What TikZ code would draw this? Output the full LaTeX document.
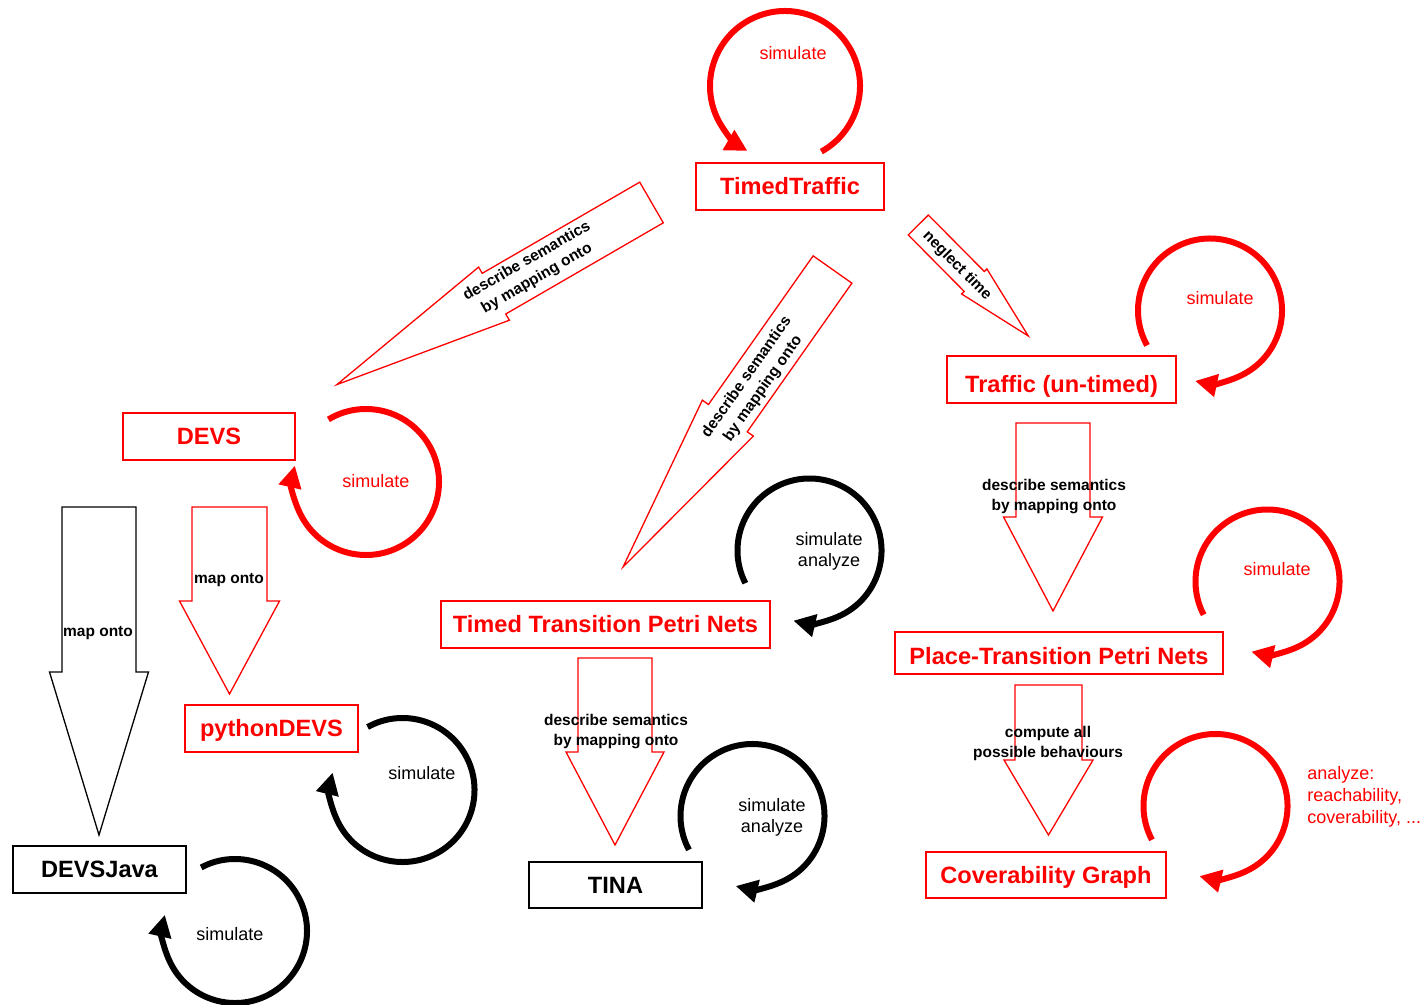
\documentclass[tikz,border=0pt]{standalone}
\usepackage{fontspec}
\setmainfont{Liberation Sans}
\usetikzlibrary{arrows.meta}

% outlined block arrow: style, start (middle of the tail), direction,
% total length, half shaft width, half head width, where the head begins
\newcommand{\blockarrow}[7]{%
  \draw[#1, shift={#2}, rotate=#3]
    (0,-#5) -- (#7,-#5) -- (#7,-#6) -- (#4,0) -- (#7,#6) -- (#7,#5) -- (0,#5) -- cycle;}

\begin{document}
\begin{tikzpicture}[x=0.5pt,y=0.5pt,
  modelbox/.style={draw=red, text=red, line width=0.9pt, inner sep=0pt,
    minimum height=23.5pt, text height=9pt, text depth=0.8pt,
    font=\fontsize{11.8}{13}\selectfont\bfseries},
  toolbox/.style={modelbox, draw=black, text=black},
  loopred/.style={draw=red, line width=3pt, -{Triangle[length=11pt,width=11pt]}},
  loopblack/.style={loopred, draw=black},
  looplabel/.style={text=red, font=\fontsize{9}{10.5}\selectfont, align=center, inner sep=0pt},
  looplabelb/.style={looplabel, text=black},
  arrowshape/.style={draw=red, line width=0.65pt, line join=miter},
  arrowshapeb/.style={arrowshape, draw=black},
  arrowlabel/.style={font=\fontsize{7.75}{10}\selectfont\bfseries, align=center, inner sep=0pt},
]
\path[use as bounding box, fill=white] (0,0) rectangle (1428,-1005);

% ---- formalisms and tools
\node[modelbox, minimum width=94pt] (timed) at (790,-186.5) {TimedTraffic};
\node[modelbox, minimum width=114.5pt, text height=14pt] (untimed) at (1061.5,-379.5) {Traffic (un-timed)};
\node[modelbox, minimum width=86pt] (devs) at (209,-436.5) {DEVS};
\node[modelbox, minimum width=164.5pt] (ttpn) at (605.5,-624.5) {Timed Transition Petri Nets};
\node[modelbox, minimum width=164pt, minimum height=21pt, text height=12pt] (ptpn) at (1059,-653) {Place-Transition Petri Nets};
\node[modelbox, minimum width=86.5pt] (pydevs) at (271.5,-728.5) {pythonDEVS};
\node[toolbox, minimum width=86.5pt] (devsjava) at (99.5,-869.5) {DEVSJava};
\node[toolbox, minimum width=86.5pt, minimum height=23pt] (tina) at (615.5,-885) {TINA};
\node[modelbox, minimum width=120pt, minimum height=23pt] (cov) at (1046,-875) {Coverability Graph};

% ---- self loops (centres)
\coordinate (l1) at (785,-86);
\coordinate (l2) at (1210,-310.5);
\coordinate (l3) at (366,-482);
\coordinate (l4) at (809.5,-550.5);
\coordinate (l5) at (1267.5,-581.5);
\coordinate (l6) at (402.5,-790);
\coordinate (l7) at (235,-931);
\coordinate (l8) at (752.5,-816);
\coordinate (l9) at (1215.5,-806);

\draw[loopred]   (l1) ++(-61:75) arc[start angle=-61, end angle=240, radius=75];
\draw[loopred]   (l2) ++(209:72) arc[start angle=209, end angle=-102, radius=72];
\draw[loopred]   (l3) ++(121:73) arc[start angle=121, end angle=-193, radius=73];
\draw[loopblack] (l4) ++(207:72) arc[start angle=207, end angle=-103, radius=72];
\draw[loopred]   (l5) ++(207.5:72) arc[start angle=207.5, end angle=-103, radius=72];
\draw[loopblack] (l6) ++(119:72) arc[start angle=119, end angle=-194, radius=72];
\draw[loopblack] (l7) ++(118:72) arc[start angle=118, end angle=-193, radius=72];
\draw[loopblack] (l8) ++(208:72) arc[start angle=208, end angle=-103.5, radius=72];
\draw[loopred]   (l9) ++(208:72) arc[start angle=208, end angle=-103, radius=72];

\node[looplabel]  at (793,-53) {simulate};
\node[looplabel]  at (1220,-298) {simulate};
\node[looplabel]  at (376,-481) {simulate};
\node[looplabelb] at (829,-551) {simulate\\analyze};
\node[looplabel]  at (1277,-569) {simulate};
\node[looplabelb] at (422,-773) {simulate};
\node[looplabelb] at (772,-817) {simulate\\analyze};
\node[looplabelb] at (230,-934) {simulate};
\node[looplabel, align=left, font=\fontsize{9}{11}\selectfont, anchor=west] at (1307,-797)
  {analyze:\\reachability,\\coverability, ...};

% ---- transformations
\blockarrow{arrowshape}{(651.5,-202.5)}{210.06}{363.5}{23.5}{30.7}{182}
\blockarrow{arrowshape}{(832.5,-269.5)}{234.85}{363.9}{23.7}{31.2}{181.8}
\blockarrow{arrowshape}{(918.3,-225)}{-45.26}{156.3}{14.15}{17.8}{79.5}
\blockarrow{arrowshape}{(1053,-423)}{-90}{188}{37}{49.5}{94}
\blockarrow{arrowshape}{(615,-658)}{-90}{187}{37}{49}{94}
\blockarrow{arrowshape}{(1048.5,-685)}{-90}{150}{33.5}{44.5}{75}
\blockarrow{arrowshape}{(229.5,-507)}{-90}{187}{37.5}{50}{94}
\blockarrow{arrowshapeb}{(99,-507)}{-90}{328}{37}{49.5}{165}

\node[arrowlabel, rotate=30.06] at (532,-270) {describe semantics\\by mapping onto};
\node[arrowlabel, rotate=54.85] at (755,-383) {describe semantics\\by mapping onto};
\node[arrowlabel, rotate=-45.26] at (957,-266) {neglect time};
\node[arrowlabel] at (1054,-497) {describe semantics\\by mapping onto};
\node[arrowlabel] at (616,-732) {describe semantics\\by mapping onto};
\node[arrowlabel] at (1048,-743.5) {compute all\\possible behaviours};
\node[arrowlabel] at (229,-580.5) {map onto};
\node[arrowlabel] at (98,-633.5) {map onto};
\end{tikzpicture}
\end{document}
